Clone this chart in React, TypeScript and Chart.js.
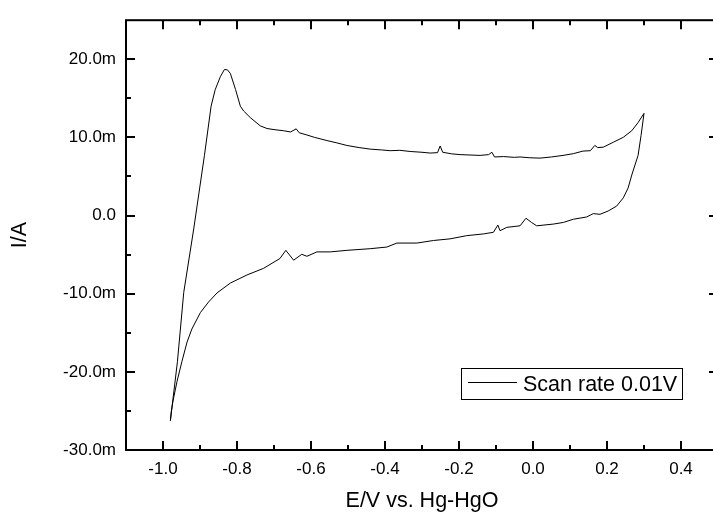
import React, { useEffect, useRef } from "react";
import { Chart, registerables } from "chart.js";

Chart.register(...registerables);

// Anodic (upper) branch: potential (V) and current (mA)
const forwardV = [
  -0.98, -0.961, -0.944, -0.917, -0.888, -0.87, -0.859, -0.845, -0.834, -0.826, -0.818,
  -0.804, -0.791, -0.782, -0.764, -0.737, -0.719, -0.7, -0.675, -0.655, -0.64, -0.632,
  -0.611, -0.59, -0.557, -0.53, -0.503, -0.47, -0.44, -0.41, -0.386, -0.36, -0.332,
  -0.3, -0.278, -0.258, -0.251, -0.244, -0.22, -0.197, -0.17, -0.143, -0.12, -0.111,
  -0.104, -0.08, -0.05, -0.035, -0.01, 0.019, 0.05, 0.081, 0.109, 0.135, 0.155, 0.167,
  0.175, 0.19, 0.217, 0.244, 0.267, 0.284, 0.3,
];
const forwardI = [
  -26.25, -18.7, -9.85, -1.72, 7.71, 14.0, 16.1, 17.77, 18.69, 18.65, 18.19,
  16.14, 14.0, 13.38, 12.53, 11.48, 11.14, 11.0, 10.86, 10.7, 11.1, 10.6,
  10.31, 10.0, 9.6, 9.3, 8.97, 8.7, 8.5, 8.4, 8.3, 8.35, 8.2,
  8.1, 8.0, 8.05, 8.9, 8.1, 7.9, 7.8, 7.75, 7.7, 7.8, 8.1,
  7.5, 7.55, 7.45, 7.5, 7.4, 7.35, 7.5, 7.7, 7.92, 8.25, 8.3, 8.97,
  8.7, 8.75, 9.38, 10.01, 10.86, 11.9, 13.08,
];

// Cathodic (lower) branch: potential (V) and current (mA)
const reverseV = [
  0.292, 0.284, 0.267, 0.257, 0.244, 0.226, 0.203, 0.181, 0.163, 0.145, 0.109, 0.082,
  0.055, 0.01, -0.004, -0.019, -0.035, -0.071, -0.089, -0.095, -0.107, -0.134, -0.179,
  -0.224, -0.269, -0.314, -0.368, -0.395, -0.44, -0.503, -0.548, -0.584, -0.611, -0.625,
  -0.647, -0.668, -0.684, -0.728, -0.773, -0.818, -0.854, -0.877, -0.899, -0.922, -0.935,
  -0.949, -0.962, -0.973, -0.978, -0.98,
];
const reverseI = [
  10.23, 7.71, 5.19, 3.52, 2.26, 1.21, 0.58, 0.16, 0.25, -0.18, -0.47, -0.88,
  -1.09, -1.31, -0.88, -0.34, -1.31, -1.51, -1.94, -1.22, -2.14, -2.35, -2.57,
  -2.98, -3.19, -3.52, -3.52, -4.03, -4.24, -4.45, -4.65, -4.65, -5.21, -4.96,
  -5.71, -4.45, -5.5, -6.75, -7.6, -8.64, -9.9, -11.07, -12.42, -14.52, -16.19,
  -18.7, -21.21, -23.73, -25.2, -26.25,
];

const xTickValues = [-1.0, -0.8, -0.6, -0.4, -0.2, 0.0, 0.2, 0.4];
const xMinorValues = [-0.9, -0.7, -0.5, -0.3, -0.1, 0.1, 0.3];
const yTickValues = [-30, -20, -10, 0, 10, 20];
const yMinorValues = [-25, -15, -5, 5, 15];

const seriesLabel = "Scan rate 0.01V";
const xTitle = "E/V vs. Hg-HgO";
const yTitle = "I/A";

const FONT = "'Liberation Sans', Arial, Helvetica, sans-serif";

const framePlugin = {
  id: "frameTicks",
  afterDatasetsDraw(chart: any) {
    const { ctx, chartArea: a, scales } = chart;
    const x = scales.x;
    const y = scales.y;
    ctx.save();
    ctx.strokeStyle = "#000";
    ctx.lineWidth = 2;
    ctx.strokeRect(a.left, a.top, a.right - a.left, a.bottom - a.top);
    const major = 9;
    const minor = 5;
    ctx.beginPath();
    const xt = (v: number, len: number) => {
      const px = Math.round(x.getPixelForValue(v));
      ctx.moveTo(px, a.bottom);
      ctx.lineTo(px, a.bottom - len);
      ctx.moveTo(px, a.top);
      ctx.lineTo(px, a.top + len);
    };
    const yt = (v: number, len: number) => {
      const py = Math.round(y.getPixelForValue(v));
      ctx.moveTo(a.left, py);
      ctx.lineTo(a.left + len, py);
      ctx.moveTo(a.right, py);
      ctx.lineTo(a.right - len, py);
    };
    xTickValues.forEach((v) => xt(v, major));
    xMinorValues.forEach((v) => xt(v, minor));
    yTickValues.forEach((v) => yt(v, major));
    yMinorValues.forEach((v) => yt(v, minor));
    ctx.stroke();

    // legend box
    const bx = a.right - 256.5;
    const by = a.bottom - 81.5;
    const bw = 221;
    const bh = 31;
    ctx.lineWidth = 1;
    ctx.strokeRect(bx, by, bw, bh);
    ctx.beginPath();
    ctx.moveTo(bx + 6.5, by + 14);
    ctx.lineTo(bx + 55.5, by + 14);
    ctx.stroke();
    ctx.fillStyle = "#000";
    ctx.font = `21.5px ${FONT}`;
    ctx.textAlign = "left";
    ctx.textBaseline = "alphabetic";
    ctx.fillText(chart.data.datasets[0].label, bx + 61.5, by + 22.5);
    ctx.restore();
  },
};

export default function App() {
  const ref = useRef<HTMLCanvasElement | null>(null);
  useEffect(() => {
    if (!ref.current) return;
    const data = [
      ...forwardV.map((v, i) => ({ x: v, y: forwardI[i] })),
      ...reverseV.map((v, i) => ({ x: v, y: reverseI[i] })),
    ];
    const chart = new Chart(ref.current, {
      type: "scatter",
      data: {
        datasets: [
          {
            label: seriesLabel,
            data,
            showLine: true,
            borderColor: "#000",
            borderWidth: 1,
            pointRadius: 0,
            tension: 0,
          },
        ],
      },
      options: {
        animation: false,
        responsive: false,
        devicePixelRatio: 1,
        layout: { padding: { left: 0, top: 13, right: 7, bottom: 0 } },
        plugins: { legend: { display: false }, tooltip: { enabled: false } },
        scales: {
          x: {
            type: "linear",
            min: -1.1,
            max: 0.5,
            grid: { display: false, drawTicks: false },
            border: { display: false },
            afterBuildTicks: (s: any) => {
              s.ticks = xTickValues.map((v) => ({ value: v }));
            },
            afterFit: (s: any) => {
              s.height = 62;
            },
            ticks: {
              padding: 9,
              color: "#000",
              font: { family: FONT, size: 17 },
              maxRotation: 0,
              autoSkip: false,
              callback: (v: any) => Number(v).toFixed(1),
            },
            title: {
              display: true,
              text: xTitle,
              color: "#000",
              font: { family: FONT, size: 21.5, lineHeight: 1 },
              padding: { top: 0, bottom: 0 },
            },
          },
          y: {
            type: "linear",
            min: -30,
            max: 25,
            grid: { display: false, drawTicks: false },
            border: { display: false },
            afterBuildTicks: (s: any) => {
              s.ticks = yTickValues.map((v) => ({ value: v }));
            },
            afterFit: (s: any) => {
              s.width = 126;
            },
            ticks: {
              padding: 10,
              color: "#000",
              font: { family: FONT, size: 17 },
              autoSkip: false,
              callback: (v: any) => (Number(v) === 0 ? "0.0" : `${Number(v).toFixed(1)}m`),
            },
            title: {
              display: true,
              text: yTitle,
              color: "#000",
              font: { family: FONT, size: 21.5, lineHeight: 1 },
              padding: { top: 9, bottom: 0 },
            },
          },
        },
      },
      plugins: [framePlugin],
    });
    return () => chart.destroy();
  }, []);

  return (
    <div
      style={{
        position: "fixed",
        left: 0,
        top: 0,
        width: 713,
        height: 512,
        overflow: "hidden",
        background: "#fff",
      }}
    >
      <canvas ref={ref} width={725} height={512} style={{ display: "block", width: 725, height: 512 }} />
    </div>
  );
}
